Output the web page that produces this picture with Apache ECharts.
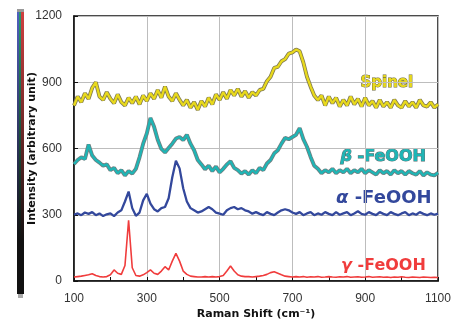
<!DOCTYPE html>
<html>
<head>
<meta charset="utf-8">
<script src="https://cdn.jsdelivr.net/npm/echarts@6/dist/echarts.min.js"></script>
<style>
html, body { margin: 0; padding: 0; background: #fff; }
#chart { width: 460px; height: 325px; }
</style>
</head>
<body>
<div id="chart"></div>
<script>
// Raman shift (cm-1), one point every 10
const shift = [
  100, 110, 120, 130, 140, 150, 160, 170, 180, 190,
  200, 210, 220, 230, 240, 250, 260, 270, 280, 290,
  300, 310, 320, 330, 340, 350, 360, 370, 380, 390,
  400, 410, 420, 430, 440, 450, 460, 470, 480, 490,
  500, 510, 520, 530, 540, 550, 560, 570, 580, 590,
  600, 610, 620, 630, 640, 650, 660, 670, 680, 690,
  700, 710, 720, 730, 740, 750, 760, 770, 780, 790,
  800, 810, 820, 830, 840, 850, 860, 870, 880, 890,
  900, 910, 920, 930, 940, 950, 960, 970, 980, 990,
  1000, 1010, 1020, 1030, 1040, 1050, 1060, 1070, 1080, 1090,
  1100
];

const spinel = [
  795, 835, 810, 850, 825, 875, 900, 835, 820, 855,
  825, 805, 845, 810, 795, 830, 805, 835, 800, 840,
  815, 850, 825, 865, 830, 880, 835, 815, 850, 820,
  795, 820, 785, 810, 775, 815, 790, 830, 800, 845,
  820, 855, 825, 865, 840, 870, 835, 860, 830, 855,
  840, 865, 870, 905, 925, 965, 970, 995, 1005, 1030,
  1035, 1048, 1040, 990, 925, 880, 840, 820, 840, 795,
  835, 805, 830, 790, 820, 795, 835, 800, 825, 790,
  830, 795, 815, 785, 820, 790, 810, 785, 820, 795,
  785, 815, 790, 810, 785, 820, 795, 790, 810, 785,
  800
];

const betaFeOOH = [
  530, 548, 560, 552, 618, 568, 548, 536, 522, 528,
  502, 512, 488, 502, 478, 498, 486, 508, 560, 622,
  668, 738, 698, 640, 598, 582, 602, 622, 645, 652,
  638, 662, 622, 592, 548, 528, 506, 522, 498, 518,
  492, 508, 528, 542, 512, 502, 486, 498, 482, 502,
  488, 512, 502, 532, 548, 578, 592, 622, 648, 642,
  652, 662, 692, 642, 608, 562, 522, 508, 488, 502,
  492, 508, 488, 502, 492, 508, 488, 502, 492, 508,
  488, 502, 492, 482, 502, 488, 498, 482, 502, 488,
  498, 482, 498, 488, 482, 498, 478, 492, 482, 478,
  490
];

const alphaFeOOH = [
  300, 306, 298, 310, 304, 312, 298, 306, 294, 302,
  306, 294, 310, 320, 360, 405, 330, 295, 310, 365,
  395, 350, 325, 315, 330, 335, 375, 470, 545, 510,
  420, 360, 330, 320, 310, 315, 325, 335, 325, 310,
  305, 300, 320, 330, 335, 325, 330, 320, 315, 305,
  312, 304, 298, 312, 304, 298, 310, 320, 325, 320,
  310, 304, 312, 298, 306, 312, 298, 306, 300, 312,
  304, 298, 312, 300, 306, 312, 298, 306, 316, 304,
  300, 312, 304, 298, 312, 304, 298, 312, 304, 298,
  306, 312, 298, 306, 300, 312, 304, 298, 306, 300,
  305
];

const gammaFeOOH = [
  18, 20, 22, 25, 28, 33, 25, 20, 18, 20,
  28, 50, 35, 30, 70, 275, 60, 25, 22, 28,
  38, 50, 35, 30, 45, 65, 50, 90, 125, 90,
  45, 30, 22, 20, 18, 18, 20, 18, 20, 18,
  20, 25, 45, 68, 45, 28, 22, 20, 20, 18,
  20, 22, 25, 30, 38, 42, 35, 28, 22, 20,
  18, 20, 18, 20, 17, 19, 18, 20, 17, 18,
  20, 18, 17, 19, 18, 20, 17, 18, 19, 17,
  18, 20, 17, 18, 19, 17, 18, 16, 18, 17,
  19, 17, 16, 18, 17, 16, 18, 17, 16, 17,
  16
];

const xTicks = [100, 300, 500, 700, 900, 1100];
const yTicks = [0, 300, 600, 900, 1200];

function pairs(ys) {
  return shift.map((x, i) => [x, ys[i]]);
}

function spectrum(name, ys, color, width, outline) {
  const list = [];
  if (outline) {
    list.push({
      name: name + '-edge', type: 'line', data: pairs(ys), symbol: 'none',
      silent: true, lineStyle: { color: outline, width: width + 1.6 }, z: 2
    });
  }
  list.push({
    name: name, type: 'line', data: pairs(ys), symbol: 'none',
    lineStyle: { color: color, width: width }, z: 3
  });
  return list;
}

// label with an italic greek letter in front
function phaseLabel(letter, x, y, size, color, stroke) {
  const base = { fontFamily: 'DejaVu Sans', fontSize: size, fill: color };
  if (stroke) {
    base.stroke = stroke;
    base.lineWidth = 1;
  }
  return {
    type: 'text', left: x, top: y,
    style: Object.assign({
      text: '{g|' + letter + '} -FeOOH',
      fontWeight: 'bold',
      rich: { g: Object.assign({}, base, { fontStyle: 'italic', fontWeight: 'bold' }) }
    }, base)
  };
}

const myChart = echarts.init(document.getElementById('chart'));

const labelFont = 'DejaVu Sans';
const option = {
  backgroundColor: '#fff',
  animation: false,
  grid: {
    left: 74, right: 22, top: 16, bottom: 42,
    show: true, borderColor: '#111', borderWidth: 1.5
  },
  xAxis: {
    type: 'value',
    min: xTicks[0], max: xTicks[xTicks.length - 1], interval: 200,
    name: 'Raman Shift (cm⁻¹)',
    nameLocation: 'middle', nameGap: 28, nameMoveOverlap: false,
    nameTextStyle: { fontFamily: labelFont, fontWeight: 'bold', fontSize: 11, color: '#111' },
    axisLine: { lineStyle: { color: '#111', width: 1.5 } },
    axisTick: { inside: true, length: 4, lineStyle: { color: '#111' } },
    minorTick: { show: true, splitNumber: 2, length: 4, lineStyle: { color: '#111' } },
    axisLabel: { fontFamily: 'Liberation Sans', fontSize: 12, color: '#333', margin: 12,
      formatter: v => String(v) },
    splitLine: { lineStyle: { color: '#bdbdbd', width: 1 } }
  },
  yAxis: {
    type: 'value',
    min: yTicks[0], max: yTicks[yTicks.length - 1], interval: 300,
    name: 'Intensity (arbitrary unit)',
    nameLocation: 'middle', nameGap: 36, nameMoveOverlap: false,
    nameTextStyle: { fontFamily: labelFont, fontWeight: 'bold', fontSize: 11, color: '#111' },
    axisLine: { show: true, lineStyle: { color: '#111', width: 1.5 } },
    axisTick: { show: true, inside: true, length: 4, lineStyle: { color: '#111' } },
    axisLabel: { fontFamily: 'Liberation Sans', fontSize: 12, color: '#333', margin: 12,
      formatter: v => String(v) },
    splitLine: { lineStyle: { color: '#bdbdbd', width: 1 } }
  },
  series: [].concat(
    spectrum('γ-FeOOH', gammaFeOOH, '#f03c3c', 1.6, null),
    spectrum('α-FeOOH', alphaFeOOH, '#33489c', 2.3, null),
    spectrum('β-FeOOH', betaFeOOH, '#1fb5b5', 2.3, '#6f7f80'),
    spectrum('Spinel', spinel, '#e8d91c', 2.3, '#807a50')
  ),
  graphic: [
    // colour strip at the far left
    { type: 'rect', shape: { x: 17, y: 11, width: 7, height: 283 },
      style: { fill: '#111' } },
    { type: 'rect', shape: { x: 17, y: 11, width: 2, height: 230 },
      style: { fill: new echarts.graphic.LinearGradient(0, 0, 0, 1, [
        { offset: 0, color: '#5060c0' }, { offset: 1, color: '#111' }]) } },
    { type: 'rect', shape: { x: 19, y: 11, width: 2, height: 230 },
      style: { fill: new echarts.graphic.LinearGradient(0, 0, 0, 1, [
        { offset: 0, color: '#2a9a70' }, { offset: 1, color: '#111' }]) } },
    { type: 'rect', shape: { x: 21, y: 11, width: 3, height: 230 },
      style: { fill: new echarts.graphic.LinearGradient(0, 0, 0, 1, [
        { offset: 0, color: '#d04040' }, { offset: 1, color: '#111' }]) } },
    { type: 'rect', shape: { x: 17, y: 9, width: 7, height: 3 }, style: { fill: '#999' } },
    { type: 'rect', shape: { x: 18, y: 294, width: 5, height: 4 }, style: { fill: '#aaa' } },
    // series labels
    { type: 'text', left: 360, top: 75,
      style: { text: 'Spinel', font: 'bold 15px "DejaVu Sans"', fill: '#e8d91c',
        stroke: '#6e6a40', lineWidth: 1 } },
    phaseLabel('β', 340, 148, 16, '#1fb5b5', '#5a6e70'),
    phaseLabel('α', 336, 189, 18, '#33489c', null),
    phaseLabel('γ', 341, 258, 16, '#f03c3c', null)
  ]
};

myChart.setOption(option);
</script>
</body>
</html>
